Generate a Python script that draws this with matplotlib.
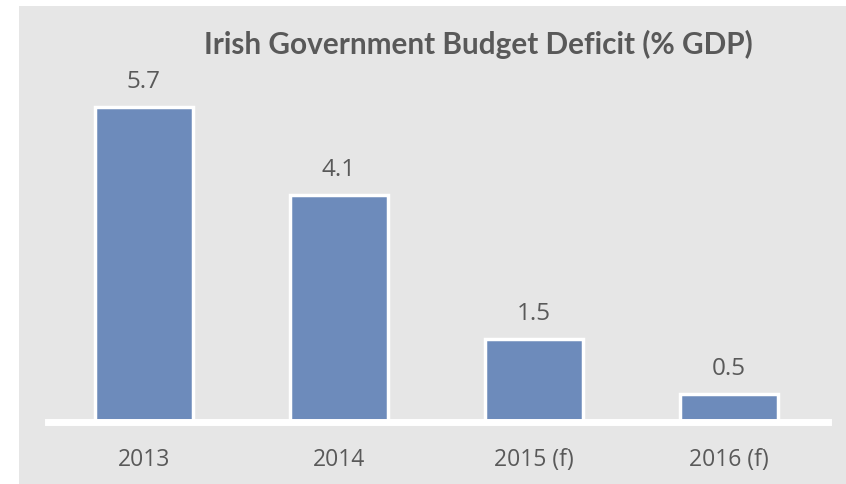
import matplotlib
matplotlib.use("Agg")
import matplotlib.pyplot as plt
from matplotlib.patches import Rectangle

years = ["2013", "2014", "2015 (f)", "2016 (f)"]
deficit = [5.7, 4.1, 1.5, 0.5]
title = "Irish Government Budget Deficit (% GDP)"

W, H = 846, 485
fig = plt.figure(figsize=(W / 100, H / 100), dpi=100, facecolor="white")

# grey panel behind everything
fig.patches.append(Rectangle((19 / W, 0), 1 - 19 / W, 1 - 7 / H,
                             transform=fig.transFigure, facecolor="#e6e6e6",
                             edgecolor="none", zorder=-5))

# axes placed in pixel terms: x 48..828, y 60..423 from top
ax = fig.add_axes([48 / W, (H - 423) / H, 780 / W, 363 / H])
ax.set_facecolor("none")
ax.set_zorder(2)

x = range(len(years))
bars = ax.bar(x, deficit, width=0.5, color="#6d8bbb", edgecolor="white",
              linewidth=2.5, zorder=2)
for xi, v in zip(x, deficit):
    ax.annotate("{:.1f}".format(v), (xi, v), xytext=(0, 10), textcoords="offset points",
                ha="center", va="bottom", fontsize=17.5, color="#595959",
                family="Open Sans")

ax.set_xlim(-0.492, 3.508)
ax.set_ylim(0, 363 / 55.35)
ax.set_xticks(list(x))
ax.set_xticklabels(years, fontsize=16.5, color="#595959", family="Open Sans")
ax.tick_params(axis="x", length=0, pad=18)
ax.set_yticks([])
for s in ["top", "left", "right"]:
    ax.spines[s].set_visible(False)
ax.spines["bottom"].set_color("white")
ax.spines["bottom"].set_linewidth(5)
ax.spines["bottom"].set_zorder(3)

fig.text(478 / W, 1 - 44 / H, title, ha="center", va="center", fontsize=21.4,
         fontweight="bold", color="#595959", family="Lato")

fig.savefig("out.png", dpi=100, facecolor="white")
